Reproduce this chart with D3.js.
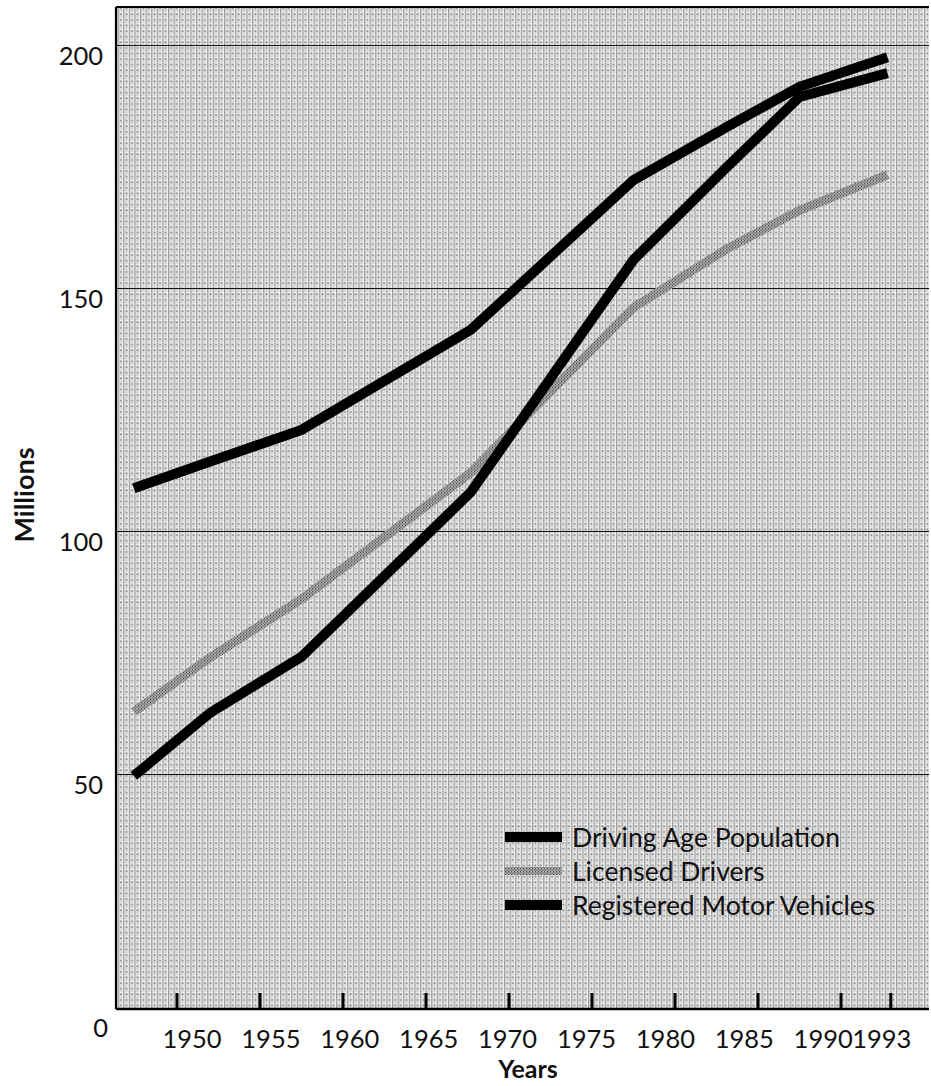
<!DOCTYPE html>
<html>
<head>
<meta charset="utf-8">
<script src="https://cdn.jsdelivr.net/npm/d3@7"></script>
<style>
  body { margin: 0; background: #fff; }
  text { font-family: Lato, "Open Sans", sans-serif; fill: #111; }
</style>
</head>
<body>
<div id="chart"></div>
<script>
// values (x = position on the year axis)
var pointYears = [1947.4, 1952, 1957.5, 1967.7, 1977.5, 1983.1, 1987.5, 1992.8];
var drivingAge = [108.8, 114.3, 120.8, 141.4, 172.2, 183.1, 191.4, 197.5];
var licensed   = [62.8, 74, 86, 112, 146, 158, 166, 173.3];
var registered = [49.6, 62.6, 74.1, 108, 155.8, 174.8, 189.3, 194.2];

var tickYears = [1950, 1955, 1960, 1965, 1970, 1975, 1980, 1985, 1990, 1993];
var yTicks = [0, 50, 100, 150, 200];
var legendNames = ["Driving Age Population", "Licensed Drivers", "Registered Motor Vehicles"];

var W = 931, H = 1086;
var plot = {left: 116, right: 929, top: 7, bottom: 1009};

var svg = d3.select("#chart").append("svg")
    .attr("width", W).attr("height", H);

var x = d3.scaleLinear().domain([1950, 1990]).range([177, 841]);
var y = d3.scaleLinear().domain([0, 200]).range([1017, 45]);

// halftone background + speckled stroke
var defs = svg.append("defs");
var ht = defs.append("pattern").attr("id", "halftone")
    .attr("patternUnits", "userSpaceOnUse").attr("width", 5.6).attr("height", 5.6);
ht.append("rect").attr("width", 5.6).attr("height", 5.6).attr("fill", "#f2f2f2");
ht.append("rect").attr("x", 0).attr("width", 1.3).attr("height", 5.6).attr("fill", "#9c9c9c");
ht.append("rect").attr("x", 2.4).attr("y", 2.2).attr("width", 1.8).attr("height", 1.8).attr("fill", "#747474");
ht.append("rect").attr("x", 2.4).attr("y", 0).attr("width", 1.8).attr("height", 0.9).attr("fill", "#c4c4c4");
ht.append("rect").attr("x", 1.3).attr("y", 4.6).attr("width", 4.3).attr("height", 0.6).attr("fill", "#d0d0d0");

var sp = defs.append("pattern").attr("id", "speckle")
    .attr("patternUnits", "userSpaceOnUse").attr("width", 3).attr("height", 3);
sp.append("rect").attr("width", 3).attr("height", 3).attr("fill", "#a2a2a2");
sp.append("rect").attr("width", 1.2).attr("height", 1.2).attr("fill", "#4a4a4a");
sp.append("rect").attr("x", 1.5).attr("y", 1.5).attr("width", 1.2).attr("height", 1.2).attr("fill", "#5e5e5e");
sp.append("rect").attr("x", 1.6).attr("y", 0.2).attr("width", 0.9).attr("height", 0.9).attr("fill", "#dadada");

svg.append("rect")
    .attr("x", plot.left).attr("y", plot.top)
    .attr("width", plot.right - plot.left).attr("height", plot.bottom - plot.top)
    .attr("fill", "url(#halftone)");

// gridlines
svg.selectAll(".grid").data(yTicks.filter(function(d){ return d > 0; }))
  .enter().append("line")
    .attr("x1", plot.left).attr("x2", plot.right)
    .attr("y1", function(d){ return Math.round(y(d)) + 0.5; })
    .attr("y2", function(d){ return Math.round(y(d)) + 0.5; })
    .attr("stroke", "#111").attr("stroke-width", 1);

// frame
svg.append("line").attr("x1", plot.left).attr("x2", plot.left)
    .attr("y1", plot.top).attr("y2", plot.bottom)
    .attr("stroke", "#000").attr("stroke-width", 2.2);
svg.append("line").attr("x1", plot.left).attr("x2", plot.right)
    .attr("y1", plot.top).attr("y2", plot.top)
    .attr("stroke", "#000").attr("stroke-width", 2.2);
svg.append("line").attr("x1", plot.left).attr("x2", plot.right)
    .attr("y1", plot.bottom).attr("y2", plot.bottom)
    .attr("stroke", "#000").attr("stroke-width", 2.6);

// x ticks (point up from the baseline)
svg.selectAll(".xtick").data(tickYears).enter().append("line")
    .attr("x1", function(d){ return x(d); }).attr("x2", function(d){ return x(d); })
    .attr("y1", plot.bottom).attr("y2", plot.bottom - 16)
    .attr("stroke", "#000").attr("stroke-width", 3);

// labels in the original drift left of their ticks towards the right end
function labelShift(d) { return d === 1993 ? -9 : 15 - (d - 1950) * 0.82; }

svg.selectAll(".xlab").data(tickYears).enter().append("text")
    .attr("x", function(d){ return x(d) + labelShift(d); })
    .attr("y", 1048)
    .attr("text-anchor", "middle")
    .attr("font-size", 25.5)
    .text(function(d){ return d; });

svg.selectAll(".ylab").data(yTicks).enter().append("text")
    .attr("x", function(d){ return d === 0 ? 108 : 103; })
    .attr("y", function(d){ return y(d) + 20; })
    .attr("text-anchor", "end")
    .attr("font-size", 25.5)
    .text(function(d){ return d; });

svg.append("text")
    .attr("transform", "translate(34,495) rotate(-90)")
    .attr("text-anchor", "middle")
    .attr("font-size", 27).attr("font-weight", "bold")
    .text("Millions");

svg.append("text")
    .attr("x", 528).attr("y", 1078)
    .attr("text-anchor", "middle")
    .attr("font-size", 25).attr("font-weight", "bold")
    .text("Years");

// series
var line = d3.line()
    .x(function(d){ return x(d[0]); })
    .y(function(d){ return y(d[1]); });

function pairs(vals) { return pointYears.map(function(yr, i){ return [yr, vals[i]]; }); }

svg.append("path").datum(pairs(licensed))
    .attr("d", line).attr("fill", "none")
    .attr("stroke", "url(#speckle)").attr("stroke-width", 9);
svg.append("path").datum(pairs(registered))
    .attr("d", line).attr("fill", "none")
    .attr("stroke", "#000").attr("stroke-width", 10);
svg.append("path").datum(pairs(drivingAge))
    .attr("d", line).attr("fill", "none")
    .attr("stroke", "#000").attr("stroke-width", 10);

// legend
var legend = svg.append("g").attr("transform", "translate(505,837)");
legendNames.forEach(function(name, i) {
    var row = legend.append("g").attr("transform", "translate(0," + (i * 34) + ")");
    row.append("line").attr("x1", 0).attr("x2", 57).attr("y1", 0).attr("y2", 0)
        .attr("stroke", i === 1 ? "url(#speckle)" : "#000")
        .attr("stroke-width", i === 1 ? 8 : 10);
    row.append("text").attr("x", 67).attr("y", 10)
        .attr("font-size", 26.5)
        .text(name);
});
</script>
</body>
</html>
